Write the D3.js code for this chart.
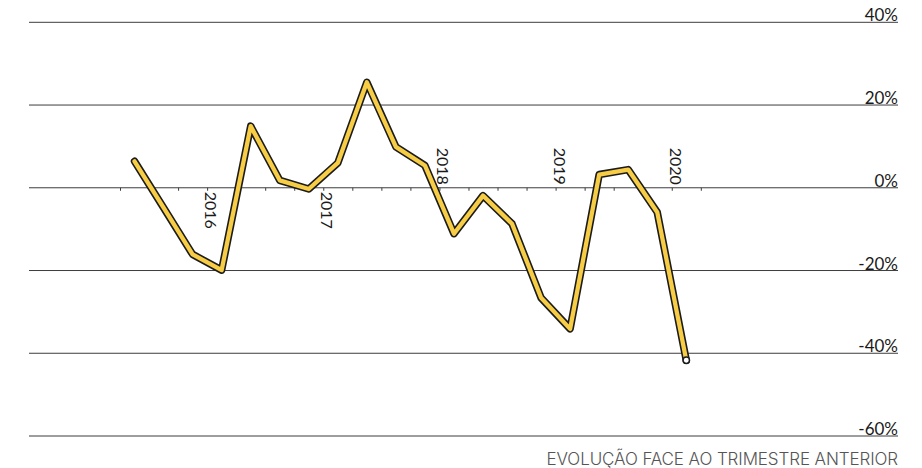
<!DOCTYPE html>
<html>
<head>
<meta charset="utf-8">
<script src="https://cdn.jsdelivr.net/npm/d3@7"></script>
<style>
  html, body { margin: 0; padding: 0; background: #fff; }
  svg { display: block; }
</style>
</head>
<body>
<svg id="chart" width="922" height="468"></svg>
<script>
// Quarterly change versus the previous quarter (%), 2015 Q2 – 2020 Q1
const quarters = [
  "2015T2", "2015T3", "2015T4",
  "2016T1", "2016T2", "2016T3", "2016T4",
  "2017T1", "2017T2", "2017T3", "2017T4",
  "2018T1", "2018T2", "2018T3", "2018T4",
  "2019T1", "2019T2", "2019T3", "2019T4",
  "2020T1"
];
const changes = [
  6.4, -4.8, -16.1,
  -19.9, 14.9, 1.8, -0.3,
  6.0, 25.5, 9.9, 5.4,
  -11.1, -1.9, -8.7, -26.6,
  -34.1, 3.2, 4.4, -5.9,
  -41.7
];
const yTicks = [-60, -40, -20, 0, 20, 40];
const yearLabels = [2016, 2017, 2018, 2019, 2020];
const caption = "EVOLUÇÃO FACE AO TRIMESTRE ANTERIOR";

// quarter "YYYYTn" -> fractional year at the middle of the quarter
const quarterMid = q => +q.slice(0, 4) + (+q.slice(5) - 1) / 4 + 0.125;
const data = quarters.map((q, i) => ({ t: quarterMid(q), v: changes[i] }));

const svg = d3.select("#chart");
const gridLeft = 29, gridRight = 898;

const x = d3.scaleLinear().domain([2015.25, 2020.25]).range([120, 700.8]);
const y = d3.scaleLinear().domain([-60, 40]).range([436, 22.3]);

// horizontal grid with right-aligned labels sitting on the lines
const grid = svg.append("g").attr("class", "grid");
grid.selectAll("line")
  .data(yTicks)
  .join("line")
  .attr("x1", gridLeft).attr("x2", gridRight)
  .attr("y1", d => y(d)).attr("y2", d => y(d))
  .attr("stroke", "#3d3d3d")
  .attr("stroke-width", 1);
grid.selectAll("text")
  .data(yTicks)
  .join("text")
  .attr("x", gridRight)
  .attr("y", d => y(d) - 1)
  .attr("text-anchor", "end")
  .attr("font-family", "Lato, 'Open Sans', sans-serif")
  .attr("font-size", 17)
  .attr("fill", "#1a1a1a")
  .text(d => d + "%");

// quarterly ticks along the zero line
const quarterTicks = d3.range(2015.25, 2020.26, 0.25);
const xAxis = d3.axisBottom(x)
  .tickValues(quarterTicks)
  .tickSize(3)
  .tickFormat("");
const axisG = svg.append("g")
  .attr("transform", `translate(0,${y(0)})`)
  .call(xAxis);
axisG.select(".domain").remove();
axisG.selectAll(".tick line").attr("stroke", "#3d3d3d");

// rotated year labels; later years sit above the axis
const aboveAxis = new Set([2018, 2019, 2020]);
svg.append("g")
  .selectAll("text")
  .data(yearLabels)
  .join("text")
  .attr("transform", d => {
    const ty = aboveAxis.has(d) ? y(0) - 3 : y(0) + 4;
    return `translate(${x(d) - 2},${ty}) rotate(90)`;
  })
  .attr("text-anchor", d => aboveAxis.has(d) ? "end" : "start")
  .attr("font-family", "Lato, 'Open Sans', sans-serif")
  .attr("font-size", 16)
  .attr("fill", "#1a1a1a")
  .text(d => d);

// outlined yellow line
const line = d3.line().x(d => x(d.t)).y(d => y(d.v));
svg.append("path")
  .datum(data)
  .attr("d", line)
  .attr("fill", "none")
  .attr("stroke", "#1c1c1c")
  .attr("stroke-width", 7.5)
  .attr("stroke-linejoin", "round")
  .attr("stroke-linecap", "round");
svg.append("path")
  .datum(data)
  .attr("d", line)
  .attr("fill", "none")
  .attr("stroke", "#f8cd46")
  .attr("stroke-width", 4.3)
  .attr("stroke-linejoin", "round")
  .attr("stroke-linecap", "round");

// marker on the latest quarter
const last = data[data.length - 1];
svg.append("circle")
  .attr("cx", x(last.t))
  .attr("cy", y(last.v))
  .attr("r", 3.2)
  .attr("fill", "#fff")
  .attr("stroke", "#1c1c1c")
  .attr("stroke-width", 1.5);

// caption
svg.append("text")
  .attr("x", gridRight)
  .attr("y", 465)
  .attr("text-anchor", "end")
  .attr("font-family", "Inter, Roboto, sans-serif")
  .attr("font-weight", 300)
  .attr("font-size", 17)
  .attr("letter-spacing", -0.1)
  .attr("fill", "#555")
  .text(caption);
</script>
</body>
</html>
